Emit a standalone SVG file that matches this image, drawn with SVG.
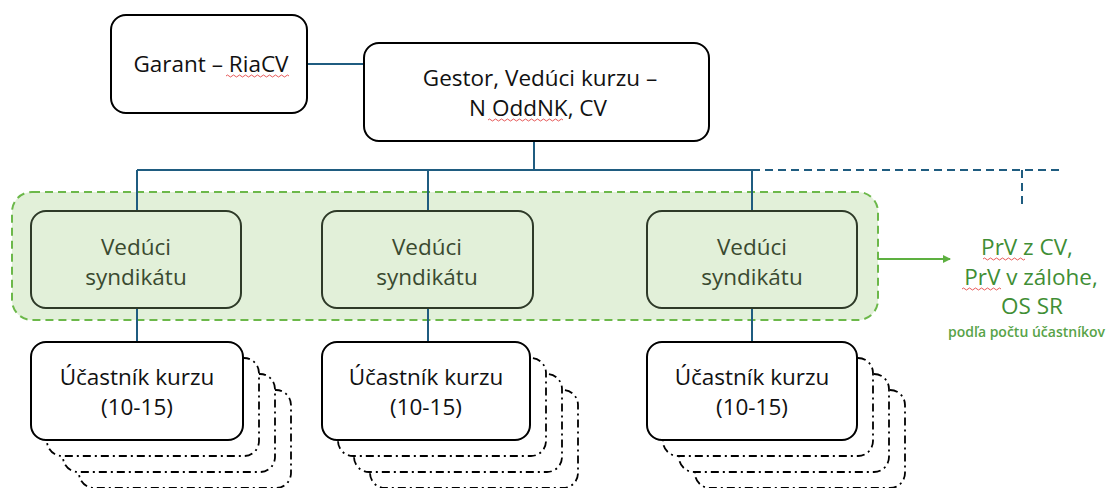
<svg xmlns="http://www.w3.org/2000/svg" width="1113" height="488" viewBox="0 0 1113 488">
<style>
.box{fill:#fff;stroke:#000;stroke-width:2}
.lead{fill:#E2F0D9;stroke:#2E3A28;stroke-width:2}
.back{fill:#fff;stroke:#000;stroke-width:1.8;stroke-dasharray:8 4 2 4}
.t{font-family:"Open Sans","Liberation Sans",Arial,sans-serif;font-size:22.5px;fill:#111;text-anchor:middle}
.tl{font-family:"Open Sans","Liberation Sans",Arial,sans-serif;font-size:22.5px;fill:#3A4A30;text-anchor:middle}
.tg{font-family:"Open Sans","Liberation Sans",Arial,sans-serif;font-size:22.5px;fill:#3F8E35;text-anchor:middle}
.ts{font-family:"Open Sans","Liberation Sans",Arial,sans-serif;font-size:14px;font-weight:600;fill:#58A348}
.c{stroke:#1F5C80;stroke-width:2;fill:none}
.cd{stroke:#1F5C80;stroke-width:2;fill:none;stroke-dasharray:8 5}
.sq{stroke:#E03030;stroke-width:0.8;fill:none}
</style>
<defs>
<marker id="ga" markerWidth="8" markerHeight="8" refX="7" refY="4" orient="auto" markerUnits="userSpaceOnUse">
<path d="M0,0 L8,4 L0,8 Z" fill="#5DB040"/>
</marker>
</defs>
<rect x="12" y="192" width="866" height="128" rx="20" fill="#E2F0D9" stroke="#6CB84A" stroke-width="2" stroke-dasharray="8 5"/>
<g id="connectors">
<path class="c" d="M307,64 H364"/>
<path class="c" d="M534,141 V170 M137,170 H752 M137,170 V211 M428,170 V211 M752,170 V211"/>
<path class="cd" d="M752,170 H1060 M1022,170 V208"/>
<path class="c" d="M137,308 V343 M428,308 V343 M752,308 V343"/>
<path d="M878,259 H950" stroke="#5DB040" stroke-width="2" fill="none" marker-end="url(#ga)"/>
</g>
<g id="garant">
<rect class="box" x="111" y="15" width="196" height="98" rx="15"/>
<text class="t" x="211" y="72">Garant – RiaCV</text>
<path class="sq" d="M226,76 q1.5,-2 3,0 t3,0 t3,0 t3,0 t3,0 t3,0 t3,0 t3,0 t3,0 t3,0 t3,0 t3,0 t3,0 t3,0 t3,0 t3,0 t3,0 t3,0 t3,0 t3,0 t3,0"/>
</g>
<g id="gestor">
<rect class="box" x="364" y="43" width="345" height="98" rx="15"/>
<text class="t" x="540" y="86">Gestor, Vedúci kurzu –</text>
<text class="t" x="538" y="116">N OddNK, CV</text>
<path class="sq" d="M488,120 q1.5,-2 3,0 t3,0 t3,0 t3,0 t3,0 t3,0 t3,0 t3,0 t3,0 t3,0 t3,0 t3,0 t3,0 t3,0 t3,0 t3,0 t3,0 t3,0 t3,0 t3,0 t3,0 t3,0 t3,0 t3,0 t3,0"/>
</g>
<g id="veduci1">
<rect class="lead" x="31" y="211" width="210" height="97" rx="15"/>
<text class="tl" x="136" y="255">Vedúci</text>
<text class="tl" x="136" y="285">syndikátu</text>
</g>
<g id="veduci2">
<rect class="lead" x="322" y="211" width="211" height="97" rx="15"/>
<text class="tl" x="427" y="255">Vedúci</text>
<text class="tl" x="427" y="285">syndikátu</text>
</g>
<g id="veduci3">
<rect class="lead" x="647" y="211" width="210" height="97" rx="15"/>
<text class="tl" x="752" y="255">Vedúci</text>
<text class="tl" x="752" y="285">syndikátu</text>
</g>
<g id="prv">
<text class="tg" x="1027" y="255">PrV z CV,</text>
<text class="tg" x="1031" y="285">PrV v zálohe,</text>
<text class="tg" x="1032" y="314">OS SR</text>
<text class="ts" x="948" y="337">podľa počtu účastníkov</text>
<path class="sq" d="M983,259 q1.5,-2 3,0 t3,0 t3,0 t3,0 t3,0 t3,0 t3,0 t3,0 t3,0 t3,0 t3,0 t3,0 t3,0 t3,0"/>
<path class="sq" d="M962,289 q1.5,-2 3,0 t3,0 t3,0 t3,0 t3,0 t3,0 t3,0 t3,0 t3,0 t3,0 t3,0 t3,0 t3,0"/>
</g>
<g id="ucastnik1">
<rect class="back" x="79" y="390" width="212" height="98" rx="15"/>
<rect class="back" x="63" y="374" width="212" height="98" rx="15"/>
<rect class="back" x="47" y="358" width="212" height="98" rx="15"/>
<rect class="box" x="31" y="342" width="212" height="98" rx="15"/>
<text class="t" x="137" y="385">Účastník kurzu</text>
<text class="t" x="137" y="415">(10-15)</text>
</g>
<g id="ucastnik2">
<rect class="back" x="370" y="390" width="208" height="98" rx="15"/>
<rect class="back" x="354" y="374" width="208" height="98" rx="15"/>
<rect class="back" x="338" y="358" width="208" height="98" rx="15"/>
<rect class="box" x="322" y="342" width="208" height="98" rx="15"/>
<text class="t" x="426" y="385">Účastník kurzu</text>
<text class="t" x="426" y="415">(10-15)</text>
</g>
<g id="ucastnik3">
<rect class="back" x="695" y="390" width="210" height="98" rx="15"/>
<rect class="back" x="679" y="374" width="210" height="98" rx="15"/>
<rect class="back" x="663" y="358" width="210" height="98" rx="15"/>
<rect class="box" x="647" y="342" width="210" height="98" rx="15"/>
<text class="t" x="752" y="385">Účastník kurzu</text>
<text class="t" x="752" y="415">(10-15)</text>
</g>
</svg>
